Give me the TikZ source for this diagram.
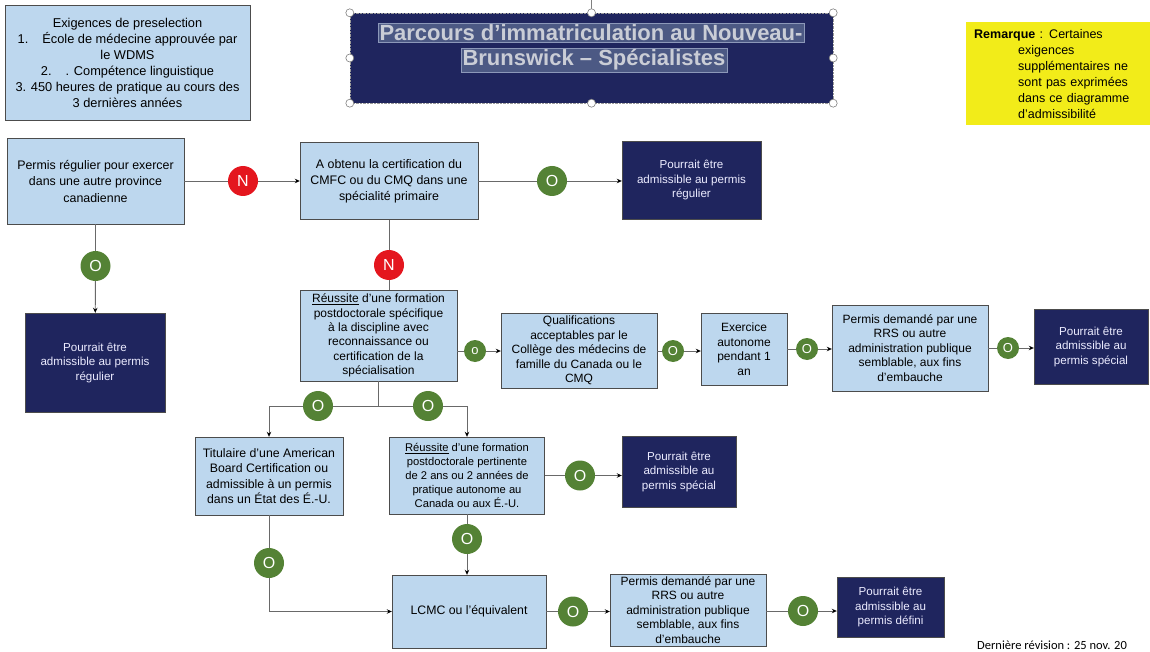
\documentclass[tikz,border=0pt]{standalone}
\usepackage{fontspec}
\setmainfont{Liberation Sans}
\newfontfamily\calibri{Carlito}
\usepackage{tikz}
\usepackage{xcolor}
\usetikzlibrary{calc, arrows.meta, shapes.geometric}

\definecolor{lblue}{RGB}{189,215,238}
\definecolor{navy}{RGB}{31,37,94}
\definecolor{ogreen}{RGB}{84,130,53}
\definecolor{nred}{RGB}{228,22,30}
\definecolor{remyellow}{RGB}{242,236,25}
\definecolor{linegray}{RGB}{105,105,105}
\definecolor{titlegray}{RGB}{202,205,214}
\definecolor{hlblue}{RGB}{76,89,132}
\definecolor{hlborder}{RGB}{140,152,185}

\begin{document}
\begin{tikzpicture}[x=1pt, y=-1pt,
      >={Stealth[length=5pt,width=4.5pt,black]},
      box/.style={
        draw=black!70,
        fill=lblue,
        align=center,
        inner sep=1pt,
        font=\fontsize{12}{14.5}\selectfont
      },
      dark/.style={box, fill=navy, text=white!92!blue,
        font=\fontsize{11.6}{14.5}\selectfont},
      yes/.style={circle, fill=ogreen, text=white, inner sep=0pt,
        minimum size=30pt, font=\fontsize{16}{16}\selectfont},
      smallyes/.style={yes, minimum size=22pt, font=\fontsize{13}{13}\selectfont},
      no/.style={yes, fill=nred},
      link/.style={draw=linegray, line width=0.9pt},
      hl/.style={fill=hlblue, draw=hlborder, text=titlegray, inner sep=1.5pt,
        font=\bfseries\fontsize{22}{22}\selectfont},
      handle/.style={draw=gray, fill=white, line width=0.6pt}]
    \useasboundingbox (0,0) rectangle (1150,652);

    \node[box, minimum width=245pt, minimum height=115pt,
      font=\fontsize{12.8}{16}\selectfont] (pre) at (127.5,62.5)
      {Exigences de preselection\\
       1.\hspace{1.1em}École de médecine approuvée par\\
       le WDMS\\
       2.\hspace{1.1em}. Compétence linguistique\\
       3. 450 heures de pratique au cours des\\
       3 dernières années};

    \node[fill=navy, draw=gray!80, densely dotted, minimum width=483pt,
      minimum height=90pt] (title) at (591.5,58) {};
    \draw[gray] (title.north) -- ++(0,-13);
    \foreach \a in {north west, north, north east, west, east,
      south west, south, south east}
      \draw[handle] (title.\a) circle (4pt);
    \node[hl] (tone) at (591,33) {Parcours d’immatriculation au Nouveau-};
    \node[hl] (ttwo) at (594,60) {Brunswick – Spécialistes};

    \node[fill=remyellow, anchor=north west, minimum height=103pt,
      text width=168pt, inner xsep=8pt, align=left,
      font=\fontsize{12.5}{16}\selectfont] (rem) at (966,22)
      {\textbf{Remarque} : Certaines\\
       \hspace*{44pt}exigences\\
       \hspace*{44pt}supplémentaires ne\\
       \hspace*{44pt}sont pas exprimées\\
       \hspace*{44pt}dans ce diagramme\\
       \hspace*{44pt}d’admissibilité};

    \node[box, minimum width=177pt, minimum height=86pt,
      font=\fontsize{12.4}{16.5}\selectfont] (perm) at (95.5,181)
      {Permis régulier pour exercer\\dans une autre province\\canadienne};
    \node[box, minimum width=178pt, minimum height=77pt,
      font=\fontsize{12.4}{16}\selectfont] (cmfc) at (389,181)
      {A obtenu la certification du\\CMFC ou du CMQ dans une\\spécialité primaire};
    \node[dark, minimum width=139pt, minimum height=78pt] (regone) at (691.5,180)
      {Pourrait être\\admissible au permis\\régulier};
    \node[dark, minimum width=140pt, minimum height=99pt] (regtwo) at (95,362.5)
      {Pourrait être\\admissible au permis\\régulier};

    \node[box, minimum width=157pt, minimum height=91pt,
      font=\fontsize{12}{14.3}\selectfont] (postdoc) at (378.5,335.5)
      {\underline{Réussite} d’une formation\\postdoctorale spécifique\\à la discipline avec\\reconnaissance ou\\certification de la\\spécialisation};
    \node[box, minimum width=156pt, minimum height=75pt] (qual) at (579,350.5)
      {Qualifications\\acceptables par le\\Collège des médecins de\\famille du Canada ou le\\CMQ};
    \node[box, minimum width=86pt, minimum height=72pt] (exer) at (744,349)
      {Exercice\\autonome\\pendant 1\\an};
    \node[box, minimum width=156pt, minimum height=86pt] (rrsone) at (910,348)
      {Permis demandé par une\\RRS ou autre\\administration publique\\semblable, aux fins\\d’embauche};
    \node[dark, minimum width=114pt, minimum height=75pt] (speone) at (1091,346.5)
      {Pourrait être\\admissible au\\permis spécial};

    \node[box, minimum width=148pt, minimum height=78pt,
      font=\fontsize{12.3}{15.3}\selectfont] (abc) at (269,476)
      {Titulaire d’une American\\Board Certification ou\\admissible à un permis\\dans un État des É.-U.};
    \node[box, minimum width=155pt, minimum height=77pt,
      font=\fontsize{11.2}{14}\selectfont] (pertin) at (467,475.5)
      {\underline{Réussite} d’une formation\\postdoctorale pertinente\\de 2 ans ou 2 années de\\pratique autonome au\\Canada ou aux É.-U.};
    \node[dark, minimum width=114pt, minimum height=71pt] (spetwo) at (679,471.5)
      {Pourrait être\\admissible au\\permis spécial};

    \node[box, minimum width=154pt, minimum height=73pt,
      font=\fontsize{12.3}{14.5}\selectfont] (lcmc) at (469,611.5)
      {LCMC ou l’équivalent};
    \node[box, minimum width=156pt, minimum height=72pt] (rrstwo) at (688,610)
      {Permis demandé par une\\RRS ou autre\\administration publique\\semblable, aux fins\\d’embauche};
    \node[dark, minimum width=107pt, minimum height=60pt] (defi) at (890.5,607)
      {Pourrait être\\admissible au\\permis défini};

    \node[no] (nA) at (243,181) {N};
    \node[yes] (oA) at (552,181) {O};
    \node[yes] (oB) at (95.5,266) {O};
    \node[no] (nB) at (389,265) {N};
    \node[smallyes] (oC) at (475,351) {o};
    \node[smallyes] (oD) at (673,351) {O};
    \node[smallyes] (oE) at (807,349) {O};
    \node[smallyes] (oF) at (1008,348) {O};
    \node[yes] (oG) at (318,406) {O};
    \node[yes] (oH) at (428,406) {O};
    \node[yes] (oI) at (580,475.5) {O};
    \node[yes] (oJ) at (269,563) {O};
    \node[yes] (oK) at (467,539) {O};
    \node[yes] (oL) at (573,611.5) {O};
    \node[yes] (oM) at (803,611) {O};
    \coordinate (fork) at (378.5,406);

    \draw[link] (perm) -- (nA);
    \draw[link,->] (nA) -- (cmfc);
    \draw[link] (cmfc) -- (oA);
    \draw[link,->] (oA) -- (oA -| regone.west);
    \draw[link] (perm) -- (oB);
    \draw[link,->] (oB) -- (regtwo);
    \draw[link] (cmfc) -- (nB);
    \draw[link] (nB) -- (nB |- postdoc.north);
    \draw[link] (postdoc.east |- oC) -- (oC);
    \draw[link,->] (oC) -- (oC -| qual.west);
    \draw[link] (qual.east |- oD) -- (oD);
    \draw[link,->] (oD) -- (oD -| exer.west);
    \draw[link] (exer.east |- oE) -- (oE);
    \draw[link,->] (oE) -- (oE -| rrsone.west);
    \draw[link] (rrsone.east |- oF) -- (oF);
    \draw[link,->] (oF) -- (oF -| speone.west);
    \draw[link] (postdoc) -- (fork);
    \draw[link] (fork) -- (oG);
    \draw[link,->] (oG) -| (abc);
    \draw[link] (fork) -- (oH);
    \draw[link,->] (oH) -| (pertin);
    \draw[link] (pertin) -- (oI);
    \draw[link,->] (oI) -- (oI -| spetwo.west);
    \draw[link] (abc) -- (oJ);
    \draw[link,->] (oJ) |- (lcmc);
    \draw[link] (pertin) -- (oK);
    \draw[link,->] (oK) -- (oK |- lcmc.north);
    \draw[link] (lcmc) -- (oL);
    \draw[link,->] (oL) -- (oL -| rrstwo.west);
    \draw[link] (rrstwo.east |- oM) -- (oM);
    \draw[link,->] (oM) -- (oM -| defi.west);

    \node[anchor=base west, inner sep=0pt,
      font=\calibri\fontsize{12.5}{14}\selectfont] (rev) at (977,649.5)
      {Dernière révision : 25 nov. 20};
  \end{tikzpicture}
\end{document}
